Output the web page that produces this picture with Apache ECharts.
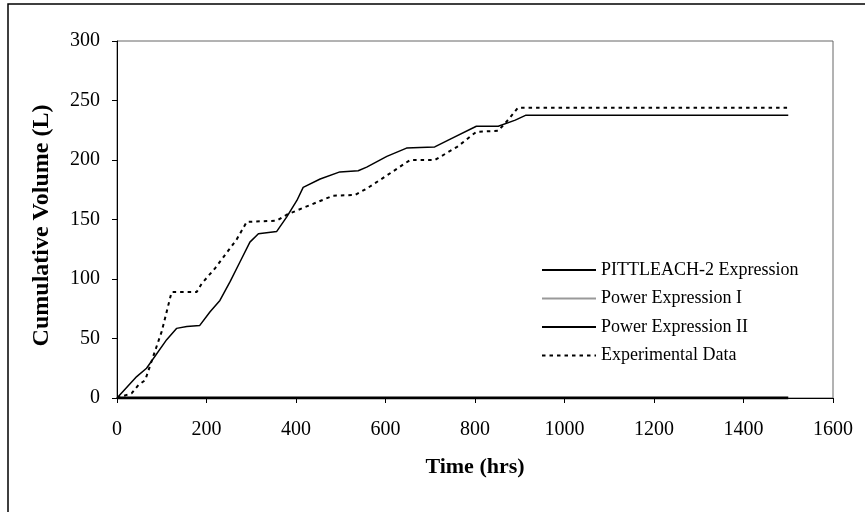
<!DOCTYPE html>
<html>
<head>
<meta charset="utf-8">
<script src="https://cdn.jsdelivr.net/npm/echarts@6/dist/echarts.min.js"></script>
<style>html,body{margin:0;padding:0;background:#fff}#c{width:865px;height:512px}</style>
</head>
<body>
<div id="c"></div>
<script>
// Series names
const seriesNames = ['PITTLEACH-2 Expression', 'Power Expression I', 'Power Expression II', 'Experimental Data'];

// PITTLEACH-2 Expression (time hrs, cumulative volume L)
const pittTime = [0, 44, 66, 111, 133, 156, 185, 208, 230, 253, 275, 297, 316, 357, 379, 402, 416, 454, 498, 539, 558, 603, 647, 677, 710, 747, 803, 852, 890, 914, 1500];
const pittVol  = [0, 18, 25, 49, 58.5, 60, 61, 72.5, 82, 98, 114.5, 131, 138, 140, 152, 166, 177, 184, 190, 191, 194, 203, 210, 210.6, 211, 218, 228.4, 228.4, 233.5, 237.7, 237.7];

// Power Expression I
const pow1Time = [0, 1500];
const pow1Vol  = [0, 0];

// Power Expression II
const pow2Time = [0, 1500];
const pow2Vol  = [0, 0];

// Experimental Data
const expTime = [0, 33, 48, 63, 81, 100, 122, 178, 189, 219, 249, 267, 290, 357, 379, 424, 483, 532, 558, 603, 655, 710, 760, 803, 852, 877, 896, 1500];
const expVol  = [0, 4, 11, 15, 35, 56, 89, 89, 96, 109, 124, 133, 148, 149, 154, 161, 170, 170.6, 176, 187, 200, 200, 211, 223.7, 224.5, 235, 244, 244];

// Axis ticks
const xTicks = [0, 200, 400, 600, 800, 1000, 1200, 1400, 1600];
const yTicks = [0, 50, 100, 150, 200, 250, 300];

const zip = (a, b) => a.map((v, i) => [v, b[i]]);
const FONT = '"Liberation Serif", "Times New Roman", serif';

const chart = echarts.init(document.getElementById('c'), null, {renderer: 'canvas'});
chart.setOption({
  animation: false,
  backgroundColor: '#fff',
  textStyle: {fontFamily: FONT, color: '#000'},
  graphic: [{
    type: 'rect', z: -1,
    shape: {x: 8, y: 4, width: 900, height: 600},
    style: {fill: 'none', stroke: '#000', lineWidth: 1.5}
  }],
  grid: {left: 117, right: 32, top: 41, bottom: 114, show: true, borderColor: '#666', borderWidth: 1, backgroundColor: 'transparent'},
  legend: {
    orient: 'vertical', left: 536, top: 256,
    itemWidth: 54, itemHeight: 14, itemGap: 10.5,
    itemStyle: {opacity: 0, borderWidth: 0},
    textStyle: {fontFamily: FONT, fontSize: 18, color: '#000', lineHeight: 18},
    data: seriesNames
  },
  xAxis: {
    type: 'value', min: xTicks[0], max: xTicks[xTicks.length - 1], interval: 200,
    name: 'Time (hrs)', nameLocation: 'middle', nameGap: 58,
    nameTextStyle: {fontFamily: FONT, fontSize: 22, fontWeight: 'bold', color: '#000'},
    axisLine: {show: true, lineStyle: {color: '#000', width: 1}},
    axisTick: {show: true, inside: false, length: 5, lineStyle: {color: '#000'}},
    axisLabel: {fontFamily: FONT, fontSize: 20, color: '#000', margin: 22, formatter: v => String(v)},
    splitLine: {show: false}
  },
  yAxis: {
    type: 'value', min: yTicks[0], max: yTicks[yTicks.length - 1], interval: 50,
    name: 'Cumulative Volume (L)', nameLocation: 'middle', nameGap: 63,
    nameTextStyle: {fontFamily: FONT, fontSize: 24, fontWeight: 'bold', color: '#000', padding: [0, 12, 0, 0]},
    axisLine: {show: true, lineStyle: {color: '#000', width: 1}},
    axisTick: {show: true, inside: false, length: 5, lineStyle: {color: '#000'}},
    axisLabel: {fontFamily: FONT, fontSize: 20, color: '#000', margin: 17, formatter: v => String(v)},
    splitLine: {show: false}
  },
  series: [
    {name: seriesNames[0], type: 'line', data: zip(pittTime, pittVol), symbol: 'none', smooth: false,
     lineStyle: {color: '#000', width: 1.5, type: 'solid'}, itemStyle: {color: '#000'}, z: 4},
    {name: seriesNames[1], type: 'line', data: zip(pow1Time, pow1Vol), symbol: 'none',
     lineStyle: {color: '#999', width: 1.2, type: 'solid'}, itemStyle: {color: '#999'}, z: 2},
    {name: seriesNames[2], type: 'line', data: zip(pow2Time, pow2Vol), symbol: 'none',
     lineStyle: {color: '#000', width: 3, type: 'solid'}, itemStyle: {color: '#000'}, z: 3},
    {name: seriesNames[3], type: 'line', data: zip(expTime, expVol), symbol: 'none',
     lineStyle: {color: '#000', width: 2, type: [3.5, 4]}, itemStyle: {color: '#000'}, z: 5}
  ]
});
</script>
</body>
</html>
